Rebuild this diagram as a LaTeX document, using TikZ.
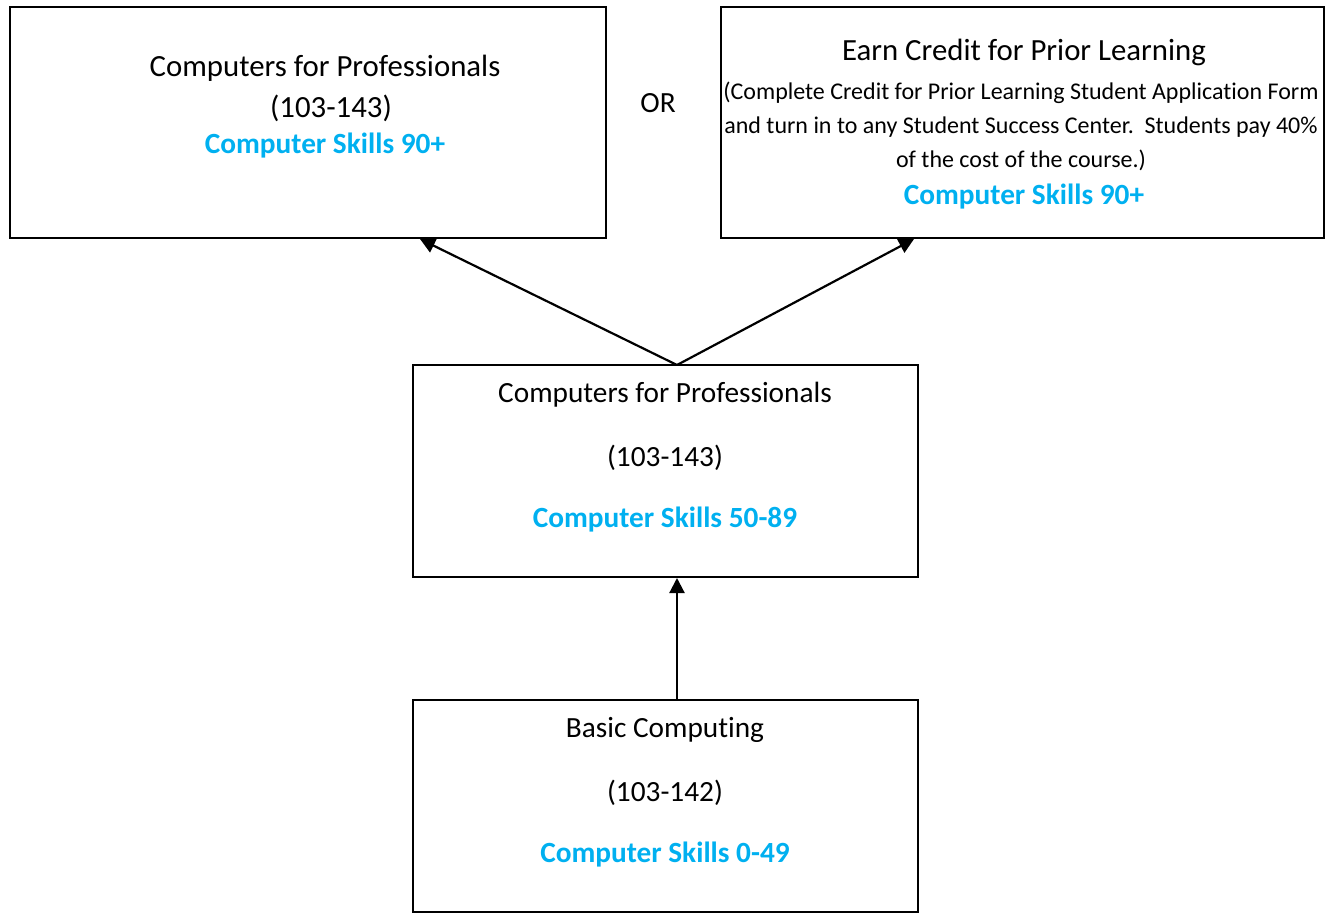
\documentclass[tikz,border=0pt]{standalone}
\usepackage{fontspec}
\setmainfont[RawFeature=-liga]{Carlito}
\usetikzlibrary{arrows.meta}
\definecolor{skillblue}{RGB}{0,176,240}
\begin{document}
\begin{tikzpicture}[x=1pt,y=-1pt,
  box/.style={draw=black,line width=1.6pt},
  txt/.style={inner sep=0pt,anchor=center},
  big/.style={txt,font=\fontsize{30.8}{36}\selectfont},
  mid/.style={txt,font=\fontsize{29.3}{34}\selectfont},
  small/.style={txt,font=\fontsize{24}{28}\selectfont},
  skill/.style={txt,text=skillblue,font=\bfseries\fontsize{29.3}{34}\selectfont},
  conn/.style={line width=2.2pt,-{Triangle[length=15pt,width=15pt]}}]
\useasboundingbox (0,0) rectangle (1328,913);
% boxes
\draw[box] (10,7) rectangle (606,238);
\draw[box] (721,7) rectangle (1324,238);
\draw[box] (413,365) rectangle (918,577);
\draw[box] (413,700) rectangle (918,912);
% anchor coordinates
\coordinate (aBot) at (420,239);
\coordinate (bBot) at (914,239);
\coordinate (cTop) at (677,365);
\coordinate (cBot) at (677,578);
\coordinate (dTop) at (677,700);
% box A
\node[big] (a1) at (325,68) {Computers for Professionals};
\node[big] (a2) at (331,108) {(103-143)};
\node[skill] (a3) at (325,146) {Computer Skills 90+};
% OR
\node[mid] (or) at (658,103) {OR};
% box B
\node[big] (b1) at (1024,52) {Earn Credit for Prior Learning};
\node[small] (b2) at (1021,93) {(Complete Credit for Prior Learning Student Application Form};
\node[small] (b3) at (1021,127) {and turn in to any Student Success Center.\ \ Students pay 40\%};
\node[small] (b4) at (1021,160) {of the cost of the course.)};
\node[skill] (b5) at (1024,197) {Computer Skills 90+};
% box C
\node[mid] (c1) at (665,395) {Computers for Professionals};
\node[mid] (c2) at (665,458) {(103-143)};
\node[skill] (c3) at (665,520) {Computer Skills 50-89};
% box D
\node[mid] (d1) at (665,730) {Basic Computing};
\node[mid] (d2) at (665,793) {(103-142)};
\node[skill] (d3) at (665,855) {Computer Skills 0-49};
% connectors
\draw[conn] (cTop) -- (aBot);
\draw[conn] (cTop) -- (bBot);
\draw[conn] (dTop) -- (cBot);
\end{tikzpicture}
\end{document}
